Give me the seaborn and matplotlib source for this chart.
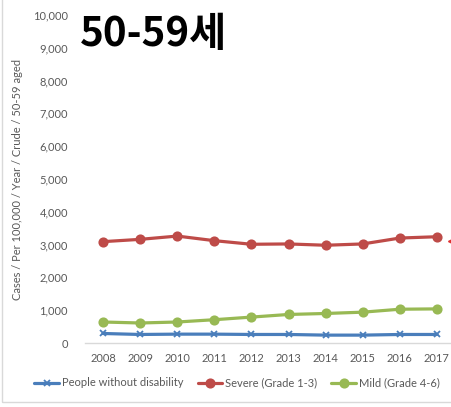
import matplotlib
matplotlib.use("Agg")
import matplotlib.pyplot as plt
from matplotlib.patches import Rectangle
from matplotlib.lines import Line2D
import seaborn as sns

years = [2008, 2009, 2010, 2011, 2012, 2013, 2014, 2015, 2016, 2017]
no_disability = [290, 260, 270, 270, 260, 260, 240, 240, 260, 260]
severe = [3090, 3160, 3260, 3120, 3010, 3020, 2980, 3020, 3200, 3240]
mild = [640, 610, 640, 710, 790, 870, 900, 940, 1030, 1040]
series_names = ["People without disability", "Severe (Grade 1-3)", "Mild (Grade 4-6)"]
y_ticks = [0, 1000, 2000, 3000, 4000, 5000, 6000, 7000, 8000, 9000, 10000]

series_values = [no_disability, severe, mild]

sns.set_theme(style="white")
plt.rcParams["font.family"] = ["Lato", "DejaVu Sans"]

text_grey = "#595959"
colors = ["#4A7EBB", "#BE4B48", "#98B954"]
markers = ["x", "o", "o"]
msizes = [5, 6, 6]

fig = plt.figure(figsize=(4.52, 4.07), dpi=100)
ax = fig.add_axes([84.5 / 452, 1 - 343 / 407, 371 / 452, 328 / 407])

handles = []
for name, vals, col, mk, ms in zip(series_names, series_values, colors, markers, msizes):
    sns.lineplot(x=years, y=vals, color=col, marker=mk, linewidth=2.3,
                 markersize=ms, markeredgewidth=1.3,
                 markeredgecolor=col, ax=ax, legend=False)
    handles.append(Line2D([], [], color=col, marker=mk, linewidth=2.3,
                          markersize=ms, markeredgewidth=1.3, markeredgecolor=col))

ax.set_xlim(2007.5, 2017.5)
ax.set_ylim(0, 10000)
ax.set_xticks(years)
ax.set_xticklabels([str(y) for y in years])
ax.set_yticks(y_ticks)
ax.set_yticklabels([f"{v:,}" for v in y_ticks])
ax.tick_params(axis="both", length=0, labelsize=8, colors=text_grey)
ax.tick_params(axis="y", pad=12)
ax.tick_params(axis="x", pad=7)
ax.set_xlabel("")
ax.set_ylabel("Cases / Per 100,000 / Year / Crude / 50-59 aged",
              fontsize=8, color=text_grey, labelpad=7)
for side in ["top", "right", "left"]:
    ax.spines[side].set_visible(False)
ax.spines["bottom"].set_color("#D9D9D9")
ax.spines["bottom"].set_linewidth(1.0)

fig.legend(handles, series_names, loc="center", bbox_to_anchor=(237 / 452, 1 - 383 / 407),
           ncol=3, frameon=False, fontsize=8, labelcolor=text_grey,
           handlelength=2.2, handletextpad=0.25, columnspacing=1.3)

fig.text(80 / 452, 1 - 35 / 407, "50-59세", fontsize=29, fontweight="black",
         color="black", va="center", ha="left",
         family=["Noto Sans CJK KR", "DejaVu Sans"])

# outer frame of the chart panel
fig.add_artist(Rectangle((2 / 452, 1 - 402 / 407), 1.2, 1.2, transform=fig.transFigure,
                         fill=False, edgecolor="#D9D9D9", linewidth=1.0))

# partially visible red pointer at the right edge
fig.add_artist(Line2D([451 / 452], [1 - 241 / 407], transform=fig.transFigure,
                      marker="<", color="#E03030", markersize=4, linestyle="none"))

fig.savefig("out.png", dpi=100)
